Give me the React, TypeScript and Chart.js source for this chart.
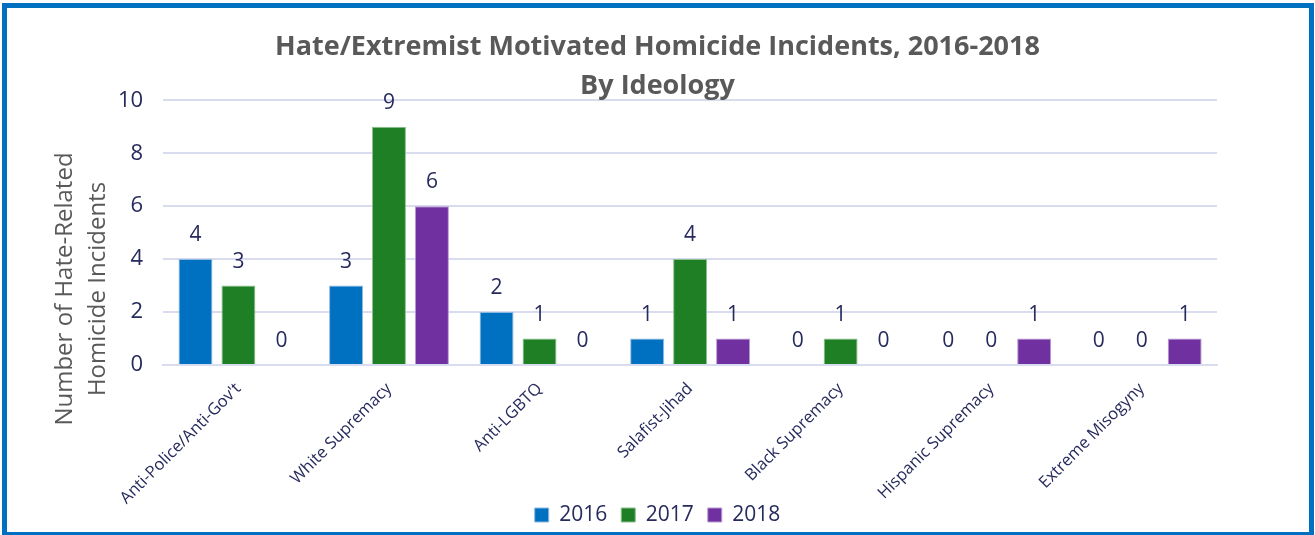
import React, { useEffect, useRef } from "react";
import { Chart, registerables } from "chart.js";

Chart.register(...registerables);

const categories = [
  "Anti-Police/Anti-Gov't",
  "White Supremacy",
  "Anti-LGBTQ",
  "Salafist-Jihad",
  "Black Supremacy",
  "Hispanic Supremacy",
  "Extreme Misogyny",
];
const values2016 = [4, 3, 2, 1, 0, 0, 0];
const values2017 = [3, 9, 1, 4, 1, 0, 0];
const values2018 = [0, 6, 0, 1, 0, 1, 1];
const seriesLabels = ["2016", "2017", "2018"];
const titleLines = ["Hate/Extremist Motivated Homicide Incidents, 2016-2018", "By Ideology"];
const yTitleLines = ["Number of Hate-Related", "Homicide Incidents"];

const FONT = "'Open Sans', 'DejaVu Sans', sans-serif";
const NAVY = "#262A5C";
const GREY = "#595959";
const GRID = "#D9DBEF";

const dataLabelPlugin = {
  id: "dataLabels",
  afterDatasetsDraw(chart: any) {
    const ctx = chart.ctx;
    ctx.save();
    ctx.fillStyle = NAVY;
    ctx.font = `21px ${FONT}`;
    ctx.textAlign = "center";
    ctx.textBaseline = "alphabetic";
    chart.data.datasets.forEach((ds: any, i: number) => {
      const meta = chart.getDatasetMeta(i);
      meta.data.forEach((el: any, j: number) => {
        ctx.fillText(String(ds.data[j]), el.x, el.y - 18);
      });
    });
    ctx.restore();
  },
};

const yTitlePlugin = {
  id: "yTitle",
  afterDraw(chart: any) {
    const ctx = chart.ctx;
    ctx.save();
    ctx.fillStyle = GREY;
    ctx.font = `24px ${FONT}`;
    ctx.textAlign = "center";
    ctx.textBaseline = "alphabetic";
    ctx.translate(72, 289);
    ctx.rotate(-Math.PI / 2);
    yTitleLines.forEach((line, i) => ctx.fillText(line, 0, i * 33));
    ctx.restore();
  },
};

export default function App() {
  const ref = useRef<HTMLCanvasElement>(null);
  useEffect(() => {
    if (!ref.current) return;
    const colors = ["#0070C0", "#1E7F24", "#7030A0"];
    const borders = ["#8DB8E0", "#8CC08F", "#B898D0"];
    const series = [values2016, values2017, values2018];
    const chart = new Chart(ref.current, {
      type: "bar",
      data: {
        labels: categories,
        datasets: series.map((d, i) => ({
          label: seriesLabels[i],
          data: d,
          backgroundColor: colors[i],
          borderColor: borders[i],
          borderWidth: 1,
          categoryPercentage: 0.856,
          barPercentage: 0.79,
        })),
      },
      options: {
        responsive: false,
        animation: false,
        layout: { padding: { left: 98, right: 98, top: 0, bottom: 0 } },
        plugins: {
          title: {
            display: true,
            text: titleLines,
            color: GREY,
            font: { family: FONT, size: 27, weight: "bold", lineHeight: 1.45 },
            padding: { top: 28, bottom: -6 },
          },
          legend: {
            position: "bottom",
            maxHeight: 44.5,
            labels: {
              color: NAVY,
              font: { family: FONT, size: 21 },
              boxWidth: 14,
              boxHeight: 14,
              padding: 14,
            },
          },
          tooltip: { enabled: false },
        },
        scales: {
          x: {
            grid: { display: false },
            border: { color: GRID, width: 2 },
            afterFit(scale: any) {
              scale.height = 125.5;
              scale._computeLabelArea = () => undefined;
            },
            ticks: {
              color: NAVY,
              font: { family: FONT, size: 16.5 },
              maxRotation: 45,
              minRotation: 45,
              padding: 6,
            },
          },
          y: {
            min: 0,
            max: 10,
            ticks: {
              stepSize: 2,
              color: NAVY,
              font: { family: FONT, size: 22 },
              padding: 20,
            },
            grid: { color: GRID, lineWidth: 2, drawTicks: false },
            border: { display: false },
          },
        },
      },
      plugins: [dataLabelPlugin, yTitlePlugin],
    });
    return () => chart.destroy();
  }, []);
  return (
    <div style={{ position: "fixed", left: 0, top: 0, width: 1315, height: 535, background: "#fff" }}>
      <canvas ref={ref} width={1315} height={535} style={{ display: "block" }} />
      <div
        style={{
          position: "absolute",
          left: 2,
          top: 3,
          width: 1312,
          height: 534,
          border: "5px solid #0070C0",
          boxSizing: "border-box",
          pointerEvents: "none",
        }}
      />
    </div>
  );
}
